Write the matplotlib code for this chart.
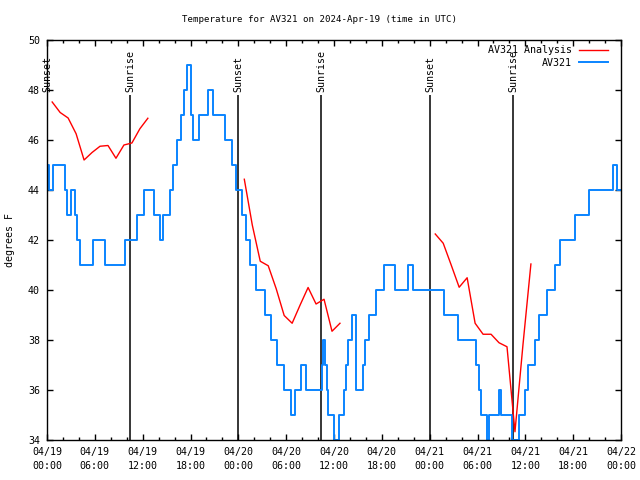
import datetime as dt
import matplotlib
matplotlib.use("Agg")
import matplotlib.pyplot as plt
import matplotlib.dates as mdates

# ---------------- data (hours since 2024-04-19 00:00 UTC) ----------------
obs_hours = [0.0, 0.25, 0.75, 2.26, 2.51, 3.01, 3.51, 3.76, 4.14, 5.77, 7.28, 9.78,
             11.29, 12.17, 13.42, 14.18, 14.55, 15.43, 15.81, 16.31, 16.81, 17.18,
             17.56, 18.06, 18.31, 19.07, 20.2, 20.82, 22.33, 23.2, 23.71, 24.46,
             24.96, 25.46, 26.22, 27.35, 28.1, 28.85, 29.73, 30.61, 31.11, 31.86,
             32.43, 34.5, 34.68, 34.87, 35.06, 35.25, 35.94, 36.57, 37.26, 37.51,
             37.76, 38.2, 38.76, 39.58, 39.89, 40.33, 41.27, 42.27, 43.59, 45.22,
             45.85, 49.86, 51.56, 53.75, 54.13, 54.44, 55.19, 55.44, 56.7, 56.89,
             58.33, 59.21, 59.9, 60.34, 61.15, 61.72, 62.66, 63.66, 64.41, 66.17,
             67.93, 70.94, 71.44, 72.0]
obs_temp = [45, 44, 45, 44, 43, 44, 43, 42, 41, 42, 41, 42,
            43, 44, 43, 42, 43, 44, 45, 46, 47, 48,
            49, 47, 46, 47, 48, 47, 46, 45, 44, 43,
            42, 41, 40, 39, 38, 37, 36, 35, 36, 37,
            36, 37, 38, 37, 36, 35, 34, 35, 36, 37,
            38, 39, 36, 37, 38, 39, 40, 41, 40, 41,
            40, 39, 38, 37, 36, 35, 34, 35, 36, 35,
            34, 35, 36, 37, 38, 39, 40, 41, 42, 43,
            44, 45, 44, 44]

ana_hours_1 = [0.65, 1.65, 2.65, 3.65, 4.65, 5.65, 6.65, 7.65, 8.65, 9.65, 10.65, 11.65, 12.65]
ana_temp_1 = [47.52, 47.1, 46.88, 46.25, 45.2, 45.5, 45.75, 45.78, 45.27, 45.8, 45.88, 46.45, 46.87]
ana_hours_2 = [24.75, 25.75, 26.75, 27.75, 28.75, 29.75, 30.75, 31.75, 32.75, 33.75, 34.75, 35.75, 36.75]
ana_temp_2 = [44.43, 42.6, 41.15, 40.97, 40.05, 38.98, 38.67, 39.4, 40.1, 39.44, 39.63, 38.35, 38.67]
ana_hours_3 = [48.7, 49.7, 50.7, 51.7, 52.7, 53.7, 54.7, 55.7, 56.7, 57.7, 58.7, 59.7, 60.7]
ana_temp_3 = [42.24, 41.87, 41.0, 40.11, 40.49, 38.67, 38.23, 38.23, 37.89, 37.73, 34.33, 37.8, 41.04]

sunset_hours = [0.02, 24.0, 48.05]
sunrise_hours = [10.42, 34.42, 58.47]

title = "Temperature for AV321 on 2024-Apr-19 (time in UTC)"
base = dt.datetime(2024, 4, 19, 0, 0)


def to_dt(hours):
    return [base + dt.timedelta(hours=h) for h in hours]


MONO = "DejaVu Sans Mono"
FS = 7.2
plt.rcParams["font.family"] = MONO
plt.rcParams["font.size"] = FS

fig = plt.figure(figsize=(6.4, 4.8), dpi=100)
ax = fig.add_axes([47 / 640, 40 / 480, 574 / 640, 400 / 480])

# sunrise / sunset markers
line_top = 47.8
for h in sunset_hours:
    t = base + dt.timedelta(hours=h)
    ax.vlines(t, 34, line_top, color="black", lw=1.1, zorder=1)
    ax.text(t, line_top + 0.1, "Sunset", rotation=90, ha="center", va="bottom", fontsize=FS)
for h in sunrise_hours:
    t = base + dt.timedelta(hours=h)
    ax.vlines(t, 34, line_top, color="black", lw=1.1, zorder=1)
    ax.text(t, line_top + 0.1, "Sunrise", rotation=90, ha="center", va="bottom", fontsize=FS)

red = "#ff0000"
blue = "#0a84ff"
ax.plot(to_dt(ana_hours_1), ana_temp_1, color=red, lw=1.0, label="AV321 Analysis", zorder=3)
ax.plot(to_dt(ana_hours_2), ana_temp_2, color=red, lw=1.0, zorder=3)
ax.plot(to_dt(ana_hours_3), ana_temp_3, color=red, lw=1.0, zorder=3)
ax.plot(to_dt(obs_hours), obs_temp, color=blue, lw=1.4, drawstyle="steps-post",
        label="AV321", zorder=2)

ax.set_xlim(base, base + dt.timedelta(hours=72))
ax.set_ylim(34, 50)
ax.set_yticks(range(34, 51, 2))

ax.xaxis.set_major_locator(mdates.HourLocator(byhour=[0, 6, 12, 18]))
ax.xaxis.set_minor_locator(mdates.HourLocator(byhour=range(0, 24, 2)))
ax.xaxis.set_major_formatter(mdates.DateFormatter("%m/%d\n%H:%M"))

ax.tick_params(axis="both", which="major", direction="in", length=4.5, width=1,
               top=True, right=True, labelsize=FS, pad=5)
ax.tick_params(axis="x", which="minor", direction="in", length=2.5, width=1,
               top=True, bottom=True)
for lbl in ax.get_xticklabels():
    lbl.set_linespacing(1.5)
for sp in ax.spines.values():
    sp.set_linewidth(1.0)
    sp.set_zorder(5)

fig.text(0.5, 1 - 19 / 480, title, ha="center", va="center", fontsize=6.6)
fig.text(10 / 640, 0.5, "degrees F", rotation=90, ha="center", va="center", fontsize=FS)

leg = ax.legend(loc="upper right", markerfirst=False, frameon=False, fontsize=FS,
                handlelength=2.9, handletextpad=0.7, labelspacing=0.25,
                borderaxespad=0.3, bbox_to_anchor=(0.99, 1.005))

fig.savefig("out.png", dpi=100)
